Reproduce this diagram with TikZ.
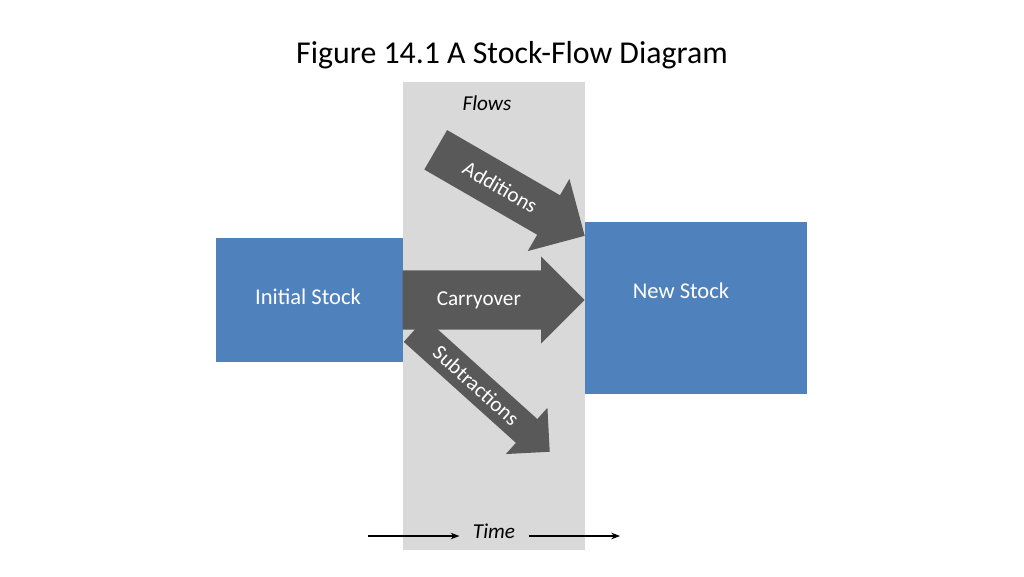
\documentclass[tikz,border=0pt]{standalone}
\usepackage{fontspec}
\setmainfont{Carlito}
\usetikzlibrary{shapes.arrows, arrows.meta, positioning}
\definecolor{stockblue}{HTML}{4F81BD}
\definecolor{bandgray}{HTML}{D9D9D9}
\definecolor{flowgray}{HTML}{595959}

\begin{document}
\begin{tikzpicture}[x=0.0265cm, y=-0.0265cm, >=Stealth]
	\tikzset{stock/.style = {fill=stockblue, text=white, font=\fontsize{17}{19}\selectfont, inner sep=0pt},
		flow/.style = {single arrow, fill=flowgray, text=white, font=\fontsize{16}{18}\selectfont, single arrow tip angle=90, inner xsep=2pt, anchor=tip}}

	\useasboundingbox (0,0) rectangle (1024,576);
	\node[font=\fontsize{24}{28}\selectfont] (title) at (512,55) {Figure 14.1 A Stock-Flow Diagram};

	% time band
	\fill[bandgray] (403,82) rectangle (585,550);
	\node[font=\itshape\fontsize{16}{18}\selectfont] (flows) at (487,103) {Flows};

	% stocks
	\node[stock, minimum width=187*0.0265cm, minimum height=124*0.0265cm] (init) at (309.5,300) {};
	\node[text=white, font=\fontsize{17}{19}\selectfont] (initlbl) at (308,297) {Initial Stock};
	\node[stock, minimum width=222*0.0265cm, minimum height=172*0.0265cm] (new) at (696,308) {};
	\node[text=white, font=\fontsize{17}{19}\selectfont] (newlbl) at (681,291) {New Stock};

	% flows
	\node[flow, minimum height=182*0.0265cm, inner ysep=0.55cm, single arrow head extend=0.37cm] (carry) at (585,300) {Carryover\hspace{1.6cm}};
	\node[flow, rotate=-30, minimum height=172*0.0265cm, inner ysep=0.4cm, single arrow head extend=0.5cm] (add) at (585,236) {Additions\hspace{1.2cm}};
	\node[flow, rotate=-42, minimum height=182*0.0265cm, inner ysep=0.22cm, single arrow head extend=0.4cm] (sub) at (550,452) {Subtractions\hspace{0.8cm}};

	% time axis
	\node[font=\itshape\fontsize{16}{18}\selectfont, inner xsep=10pt] (time) at (494,531) {Time};
	\coordinate (t0) at (368,536);
	\coordinate (t1) at (620,536);
	\draw[->, thick] (t0) -- (time.west |- t0);
	\draw[->, thick] (time.east |- t1) -- (t1);
\end{tikzpicture}
\end{document}
